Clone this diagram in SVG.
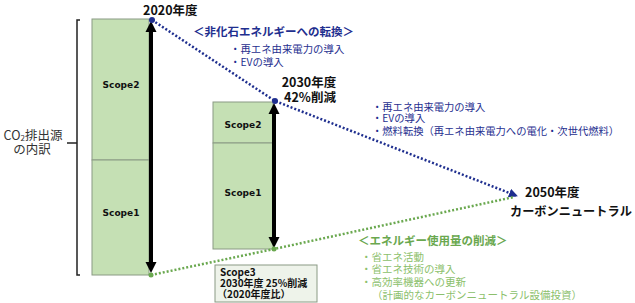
<svg xmlns="http://www.w3.org/2000/svg" width="635" height="303" viewBox="0 0 635 303">
<style>
.bar{fill:#c5e0b4;stroke:#8a9a84;stroke-width:1}
.sc{font-family:"DejaVu Sans",Verdana,sans-serif;font-weight:bold;font-size:9px;fill:#111;text-anchor:middle}
.jp{font-family:"Noto Sans CJK JP",sans-serif}
.b{font-weight:bold}
.blue{fill:#1f2f8f}
.green{fill:#6aa84f}
.lgreen{fill:#8cbf6c}
.blk{fill:#111}
.arrow{stroke:#000;stroke-width:4;fill:none}
</style>
<defs>
<marker id="ah" viewBox="0 0 10 10" refX="9" refY="5" markerWidth="3.6" markerHeight="3.6" orient="auto" markerUnits="strokeWidth">
<path d="M0,0 L10,5 L0,10 z" fill="#1f2f8f"/>
</marker>
<path id="ahead" d="M-5.5,0 L5.5,0 L0,-11 z" fill="#000"/>
</defs>

<g id="bracket">
<path d="M80,20 H77 V275 H80" fill="none" stroke="#222" stroke-width="1.5"/>
<path d="M67,143 H77" stroke="#222" stroke-width="1.5"/>
</g>
<g id="label-co2">
<text class="jp" x="33" y="140" font-size="12.5" fill="#333" text-anchor="middle">CO<tspan font-size="8" dy="1">2</tspan><tspan dy="-1">排出源</tspan></text>
<text class="jp" x="32" y="154" font-size="12.5" fill="#333" text-anchor="middle">の内訳</text>
</g>

<g id="bar2020">
<rect class="bar" x="92" y="19" width="57" height="141"/>
<rect class="bar" x="92" y="160" width="57" height="115"/>
<text class="sc" x="121" y="88">Scope2</text>
<text class="sc" x="121" y="216">Scope1</text>
</g>
<g id="bar2030">
<rect class="bar" x="213" y="102" width="60" height="41"/>
<rect class="bar" x="213" y="143" width="60" height="106"/>
<text class="sc" x="243" y="128">Scope2</text>
<text class="sc" x="243" y="196">Scope1</text>
</g>

<g id="connectors">
<path d="M151,32 V262" class="arrow"/>
<use href="#ahead" x="151" y="32" transform="translate(0,0)"/>
<use href="#ahead" transform="translate(151,262) scale(1,-1)"/>
<path d="M274,114 V237" class="arrow"/>
<use href="#ahead" x="274" y="114"/>
<use href="#ahead" transform="translate(274,237) scale(1,-1)"/>
<polyline points="152,20 275,101 517,196" fill="none" stroke="#1f2f8f" stroke-width="2.5" stroke-dasharray="2 2" marker-end="url(#ah)"/>
<polyline points="151,275 274,249 514,197" fill="none" stroke="#6aa84f" stroke-width="2.5" stroke-dasharray="2 2"/>
<circle cx="152" cy="20" r="3" fill="#1f2f8f"/>
<circle cx="275" cy="101" r="3" fill="#1f2f8f"/>
<circle cx="151" cy="275" r="2.5" fill="#6aa84f"/>
<circle cx="274" cy="249" r="2.5" fill="#6aa84f"/>
</g>

<g id="label-2020">
<text class="jp b blk" x="143" y="15" font-size="12.5">2020年度</text>
</g>
<g id="label-2030">
<text class="jp b blk" x="309" y="87" font-size="12.5" text-anchor="middle">2030年度</text>
<text class="jp b blk" x="310" y="102" font-size="12.5" text-anchor="middle">42%削減</text>
</g>
<g id="label-2050">
<text class="jp b blk" x="525" y="197" font-size="12.5">2050年度</text>
<text class="jp b blk" x="510" y="216" font-size="12.2">カーボンニュートラル</text>
</g>

<g id="nonfossil">
<text class="jp b blue" x="193" y="36" font-size="11.5">＜非化石エネルギーへの転換＞</text>
<text class="jp blue" x="230" y="53" font-size="10.4">・再エネ由来電力の導入</text>
<text class="jp blue" x="230" y="66" font-size="10.4">・EVの導入</text>
</g>
<g id="list2030">
<text class="jp blue" x="372" y="111" font-size="10.3">・再エネ由来電力の導入</text>
<text class="jp blue" x="372" y="122" font-size="10.3">・EVの導入</text>
<text class="jp blue" x="372" y="135" font-size="10.3">・燃料転換（再エネ由来電力への電化・次世代燃料）</text>
</g>
<g id="energy">
<text class="jp b green" x="358" y="245" font-size="11.5">＜エネルギー使用量の削減＞</text>
<text class="jp lgreen" x="361" y="261" font-size="10.5">・省エネ活動</text>
<text class="jp lgreen" x="361" y="273" font-size="10.5">・省エネ技術の導入</text>
<text class="jp lgreen" x="361" y="286" font-size="10.5">・高効率機器への更新</text>
<text class="jp lgreen" x="372" y="299" font-size="10.5">（計画的なカーボンニュートラル設備投資）</text>
</g>

<g id="scope3">
<rect x="215" y="265" width="102" height="37" fill="#eef3ea" stroke="#8a9a84" stroke-width="1"/>
<text class="jp b blk" x="220" y="276" font-size="10">Scope3</text>
<text class="jp b blk" x="220" y="287" font-size="10">2030年度 25%削減</text>
<text class="jp b blk" x="217" y="298" font-size="10">（2020年度比）</text>
</g>
</svg>
